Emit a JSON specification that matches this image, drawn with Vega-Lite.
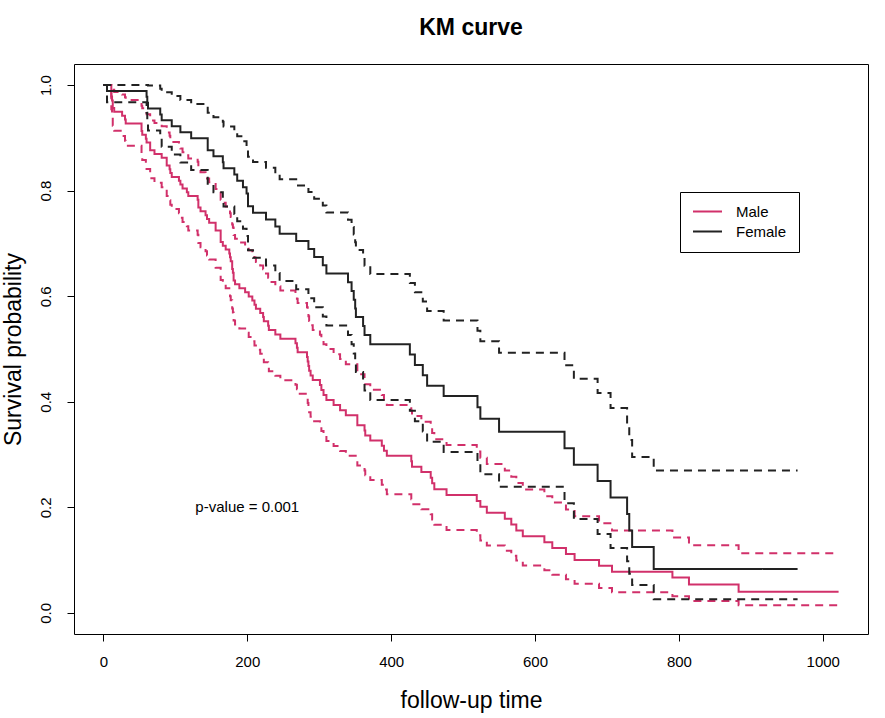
{
  "$schema": "https://vega.github.io/schema/vega-lite/v6.json",
  "width": 794,
  "height": 570,
  "autosize": "none",
  "padding": {"left": 74, "top": 64, "right": 17, "bottom": 84},
  "background": "white",
  "config": {
    "font": "Liberation Sans",
    "view": {"stroke": "black", "strokeWidth": 1},
    "axis": {"grid": false, "domain": false, "tickColor": "black", "tickSize": 7, "labelColor": "black", "titleColor": "black", "labelFont": "Liberation Sans", "titleFont": "Liberation Sans", "labelFontSize": 15, "titleFontSize": 23, "titleFontWeight": "normal"}
  },
  "title": {"text": "KM curve", "fontSize": 23, "fontWeight": "bold", "font": "Liberation Sans", "color": "black", "anchor": "middle", "offset": 24},
  "layer": [
    {
      "data": {"values": [
        {"sex":"Male","time":0,"est":1,"lo":1,"hi":1},
        {"sex":"Male","time":11,"est":0.9783,"lo":0.9542,"hi":1},
        {"sex":"Male","time":12,"est":0.971,"lo":0.9434,"hi":0.999},
        {"sex":"Male","time":13,"est":0.9565,"lo":0.9231,"hi":0.991},
        {"sex":"Male","time":15,"est":0.9493,"lo":0.9134,"hi":0.987},
        {"sex":"Male","time":26,"est":0.942,"lo":0.9038,"hi":0.982},
        {"sex":"Male","time":30,"est":0.9348,"lo":0.8945,"hi":0.977},
        {"sex":"Male","time":31,"est":0.9275,"lo":0.8853,"hi":0.972},
        {"sex":"Male","time":53,"est":0.913,"lo":0.8672,"hi":0.961},
        {"sex":"Male","time":54,"est":0.9058,"lo":0.8583,"hi":0.956},
        {"sex":"Male","time":59,"est":0.8986,"lo":0.8496,"hi":0.95},
        {"sex":"Male","time":60,"est":0.8913,"lo":0.8409,"hi":0.945},
        {"sex":"Male","time":65,"est":0.8768,"lo":0.8237,"hi":0.933},
        {"sex":"Male","time":71,"est":0.8696,"lo":0.8152,"hi":0.928},
        {"sex":"Male","time":81,"est":0.8623,"lo":0.8067,"hi":0.922},
        {"sex":"Male","time":88,"est":0.8478,"lo":0.79,"hi":0.91},
        {"sex":"Male","time":92,"est":0.8406,"lo":0.7817,"hi":0.904},
        {"sex":"Male","time":93,"est":0.8333,"lo":0.7734,"hi":0.898},
        {"sex":"Male","time":95,"est":0.8261,"lo":0.7652,"hi":0.892},
        {"sex":"Male","time":105,"est":0.8188,"lo":0.757,"hi":0.886},
        {"sex":"Male","time":107,"est":0.8116,"lo":0.7489,"hi":0.88},
        {"sex":"Male","time":110,"est":0.8043,"lo":0.7408,"hi":0.873},
        {"sex":"Male","time":116,"est":0.7971,"lo":0.7328,"hi":0.867},
        {"sex":"Male","time":118,"est":0.7899,"lo":0.7247,"hi":0.861},
        {"sex":"Male","time":131,"est":0.7826,"lo":0.7167,"hi":0.855},
        {"sex":"Male","time":132,"est":0.7681,"lo":0.7008,"hi":0.842},
        {"sex":"Male","time":135,"est":0.7609,"lo":0.6929,"hi":0.835},
        {"sex":"Male","time":142,"est":0.7536,"lo":0.6851,"hi":0.829},
        {"sex":"Male","time":144,"est":0.7464,"lo":0.6772,"hi":0.823},
        {"sex":"Male","time":147,"est":0.7391,"lo":0.6694,"hi":0.816},
        {"sex":"Male","time":156,"est":0.7246,"lo":0.6538,"hi":0.803},
        {"sex":"Male","time":163,"est":0.7029,"lo":0.6306,"hi":0.783},
        {"sex":"Male","time":166,"est":0.6957,"lo":0.623,"hi":0.777},
        {"sex":"Male","time":170,"est":0.6884,"lo":0.6153,"hi":0.77},
        {"sex":"Male","time":175,"est":0.6811,"lo":0.6076,"hi":0.763},
        {"sex":"Male","time":176,"est":0.6738,"lo":0.5999,"hi":0.757},
        {"sex":"Male","time":177,"est":0.6664,"lo":0.5922,"hi":0.75},
        {"sex":"Male","time":179,"est":0.6518,"lo":0.5769,"hi":0.736},
        {"sex":"Male","time":180,"est":0.6445,"lo":0.5693,"hi":0.73},
        {"sex":"Male","time":181,"est":0.6298,"lo":0.5541,"hi":0.716},
        {"sex":"Male","time":183,"est":0.6225,"lo":0.5466,"hi":0.709},
        {"sex":"Male","time":189,"est":0.615,"lo":0.5388,"hi":0.702},
        {"sex":"Male","time":197,"est":0.6073,"lo":0.5309,"hi":0.695},
        {"sex":"Male","time":202,"est":0.5995,"lo":0.5228,"hi":0.687},
        {"sex":"Male","time":207,"est":0.5917,"lo":0.5148,"hi":0.68},
        {"sex":"Male","time":210,"est":0.5839,"lo":0.5068,"hi":0.673},
        {"sex":"Male","time":212,"est":0.5762,"lo":0.4988,"hi":0.665},
        {"sex":"Male","time":218,"est":0.5684,"lo":0.4909,"hi":0.658},
        {"sex":"Male","time":222,"est":0.5605,"lo":0.4829,"hi":0.651},
        {"sex":"Male","time":223,"est":0.5525,"lo":0.4747,"hi":0.643},
        {"sex":"Male","time":229,"est":0.5442,"lo":0.4663,"hi":0.635},
        {"sex":"Male","time":230,"est":0.536,"lo":0.4579,"hi":0.627},
        {"sex":"Male","time":239,"est":0.5276,"lo":0.4494,"hi":0.619},
        {"sex":"Male","time":246,"est":0.5192,"lo":0.4409,"hi":0.611},
        {"sex":"Male","time":267,"est":0.5107,"lo":0.4323,"hi":0.603},
        {"sex":"Male","time":269,"est":0.5022,"lo":0.4238,"hi":0.595},
        {"sex":"Male","time":270,"est":0.4937,"lo":0.4152,"hi":0.587},
        {"sex":"Male","time":283,"est":0.485,"lo":0.4065,"hi":0.579},
        {"sex":"Male","time":284,"est":0.4764,"lo":0.3979,"hi":0.57},
        {"sex":"Male","time":285,"est":0.4676,"lo":0.3891,"hi":0.562},
        {"sex":"Male","time":286,"est":0.4587,"lo":0.3803,"hi":0.553},
        {"sex":"Male","time":288,"est":0.4499,"lo":0.3716,"hi":0.545},
        {"sex":"Male","time":291,"est":0.4411,"lo":0.3629,"hi":0.536},
        {"sex":"Male","time":301,"est":0.4319,"lo":0.3538,"hi":0.527},
        {"sex":"Male","time":303,"est":0.4225,"lo":0.3445,"hi":0.518},
        {"sex":"Male","time":306,"est":0.4129,"lo":0.335,"hi":0.509},
        {"sex":"Male","time":310,"est":0.4033,"lo":0.3256,"hi":0.5},
        {"sex":"Male","time":320,"est":0.3937,"lo":0.3162,"hi":0.49},
        {"sex":"Male","time":329,"est":0.3841,"lo":0.3069,"hi":0.481},
        {"sex":"Male","time":337,"est":0.3745,"lo":0.2976,"hi":0.471},
        {"sex":"Male","time":353,"est":0.3553,"lo":0.2791,"hi":0.452},
        {"sex":"Male","time":363,"est":0.3457,"lo":0.27,"hi":0.443},
        {"sex":"Male","time":364,"est":0.3361,"lo":0.2609,"hi":0.433},
        {"sex":"Male","time":371,"est":0.3265,"lo":0.2519,"hi":0.423},
        {"sex":"Male","time":387,"est":0.3169,"lo":0.2429,"hi":0.413},
        {"sex":"Male","time":390,"est":0.3073,"lo":0.2339,"hi":0.404},
        {"sex":"Male","time":394,"est":0.2977,"lo":0.225,"hi":0.394},
        {"sex":"Male","time":428,"est":0.2874,"lo":0.2155,"hi":0.383},
        {"sex":"Male","time":429,"est":0.2771,"lo":0.206,"hi":0.373},
        {"sex":"Male","time":442,"est":0.2669,"lo":0.1965,"hi":0.362},
        {"sex":"Male","time":455,"est":0.2562,"lo":0.1868,"hi":0.351},
        {"sex":"Male","time":457,"est":0.2455,"lo":0.177,"hi":0.341},
        {"sex":"Male","time":460,"est":0.2344,"lo":0.1669,"hi":0.329},
        {"sex":"Male","time":477,"est":0.2232,"lo":0.1569,"hi":0.318},
        {"sex":"Male","time":519,"est":0.2121,"lo":0.1469,"hi":0.306},
        {"sex":"Male","time":524,"est":0.2009,"lo":0.1371,"hi":0.294},
        {"sex":"Male","time":533,"est":0.1897,"lo":0.1275,"hi":0.282},
        {"sex":"Male","time":558,"est":0.1786,"lo":0.1179,"hi":0.27},
        {"sex":"Male","time":567,"est":0.1674,"lo":0.1085,"hi":0.258},
        {"sex":"Male","time":574,"est":0.1562,"lo":0.0992,"hi":0.246},
        {"sex":"Male","time":583,"est":0.1451,"lo":0.09,"hi":0.234},
        {"sex":"Male","time":613,"est":0.1339,"lo":0.081,"hi":0.221},
        {"sex":"Male","time":624,"est":0.1228,"lo":0.0722,"hi":0.209},
        {"sex":"Male","time":643,"est":0.1116,"lo":0.0636,"hi":0.196},
        {"sex":"Male","time":655,"est":0.1004,"lo":0.0552,"hi":0.183},
        {"sex":"Male","time":689,"est":0.0893,"lo":0.047,"hi":0.17},
        {"sex":"Male","time":707,"est":0.0781,"lo":0.039,"hi":0.156},
        {"sex":"Male","time":791,"est":0.067,"lo":0.0314,"hi":0.143},
        {"sex":"Male","time":814,"est":0.0536,"lo":0.0223,"hi":0.128},
        {"sex":"Male","time":883,"est":0.0402,"lo":0.0143,"hi":0.113},
        {"sex":"Male","time":1022,"est":0.0402,"lo":0.0143,"hi":0.113},
        {"sex":"Female","time":0,"est":1,"lo":1,"hi":1},
        {"sex":"Female","time":5,"est":0.9889,"lo":0.9675,"hi":1},
        {"sex":"Female","time":60,"est":0.9778,"lo":0.9478,"hi":1},
        {"sex":"Female","time":61,"est":0.9667,"lo":0.9303,"hi":1},
        {"sex":"Female","time":62,"est":0.9556,"lo":0.9139,"hi":0.9991},
        {"sex":"Female","time":79,"est":0.9444,"lo":0.8983,"hi":0.993},
        {"sex":"Female","time":81,"est":0.9333,"lo":0.8832,"hi":0.9863},
        {"sex":"Female","time":95,"est":0.9221,"lo":0.8683,"hi":0.9792},
        {"sex":"Female","time":107,"est":0.9107,"lo":0.8535,"hi":0.9717},
        {"sex":"Female","time":122,"est":0.8993,"lo":0.8391,"hi":0.964},
        {"sex":"Female","time":145,"est":0.8766,"lo":0.8108,"hi":0.9476},
        {"sex":"Female","time":153,"est":0.8652,"lo":0.797,"hi":0.9392},
        {"sex":"Female","time":166,"est":0.8538,"lo":0.7834,"hi":0.9305},
        {"sex":"Female","time":167,"est":0.8424,"lo":0.7699,"hi":0.9217},
        {"sex":"Female","time":182,"est":0.8305,"lo":0.7559,"hi":0.9126},
        {"sex":"Female","time":186,"est":0.8187,"lo":0.742,"hi":0.9033},
        {"sex":"Female","time":194,"est":0.8066,"lo":0.728,"hi":0.8937},
        {"sex":"Female","time":199,"est":0.7946,"lo":0.7142,"hi":0.8841},
        {"sex":"Female","time":201,"est":0.7705,"lo":0.6869,"hi":0.8643},
        {"sex":"Female","time":208,"est":0.7581,"lo":0.6729,"hi":0.8541},
        {"sex":"Female","time":226,"est":0.7452,"lo":0.6584,"hi":0.8435},
        {"sex":"Female","time":239,"est":0.7322,"lo":0.6438,"hi":0.8327},
        {"sex":"Female","time":245,"est":0.7186,"lo":0.6287,"hi":0.8214},
        {"sex":"Female","time":268,"est":0.7045,"lo":0.613,"hi":0.8098},
        {"sex":"Female","time":285,"est":0.6895,"lo":0.5962,"hi":0.7975},
        {"sex":"Female","time":293,"est":0.6742,"lo":0.5791,"hi":0.7849},
        {"sex":"Female","time":305,"est":0.6585,"lo":0.5618,"hi":0.7719},
        {"sex":"Female","time":310,"est":0.6429,"lo":0.5447,"hi":0.7587},
        {"sex":"Female","time":340,"est":0.6264,"lo":0.5267,"hi":0.745},
        {"sex":"Female","time":345,"est":0.6099,"lo":0.5089,"hi":0.731},
        {"sex":"Female","time":348,"est":0.5934,"lo":0.4913,"hi":0.7168},
        {"sex":"Female","time":350,"est":0.5769,"lo":0.4739,"hi":0.7024},
        {"sex":"Female","time":351,"est":0.5604,"lo":0.4566,"hi":0.6878},
        {"sex":"Female","time":361,"est":0.5435,"lo":0.439,"hi":0.6728},
        {"sex":"Female","time":363,"est":0.5265,"lo":0.4215,"hi":0.6576},
        {"sex":"Female","time":371,"est":0.5089,"lo":0.4035,"hi":0.6419},
        {"sex":"Female","time":426,"est":0.4894,"lo":0.3832,"hi":0.6249},
        {"sex":"Female","time":433,"est":0.4698,"lo":0.3632,"hi":0.6076},
        {"sex":"Female","time":444,"est":0.4502,"lo":0.3435,"hi":0.59},
        {"sex":"Female","time":450,"est":0.4306,"lo":0.3241,"hi":0.5722},
        {"sex":"Female","time":473,"est":0.4111,"lo":0.305,"hi":0.554},
        {"sex":"Female","time":520,"est":0.3894,"lo":0.2837,"hi":0.5345},
        {"sex":"Female","time":524,"est":0.3678,"lo":0.2629,"hi":0.5146},
        {"sex":"Female","time":550,"est":0.3433,"lo":0.239,"hi":0.4931},
        {"sex":"Female","time":641,"est":0.3121,"lo":0.2076,"hi":0.4691},
        {"sex":"Female","time":654,"est":0.2809,"lo":0.1779,"hi":0.4435},
        {"sex":"Female","time":687,"est":0.2497,"lo":0.1496,"hi":0.4166},
        {"sex":"Female","time":705,"est":0.2184,"lo":0.1229,"hi":0.3882},
        {"sex":"Female","time":728,"est":0.1872,"lo":0.0978,"hi":0.3586},
        {"sex":"Female","time":731,"est":0.156,"lo":0.0743,"hi":0.3276},
        {"sex":"Female","time":735,"est":0.1248,"lo":0.0527,"hi":0.2954},
        {"sex":"Female","time":765,"est":0.0832,"lo":0.0257,"hi":0.2697},
        {"sex":"Female","time":965,"est":0.0832,"lo":0.0257,"hi":0.2697}
      ]},
      "transform": [{"fold": ["est", "lo", "hi"], "as": ["band", "surv"]}],
      "mark": {"type": "line", "interpolate": "step-after", "strokeWidth": 2},
      "encoding": {
        "x": {"field": "time", "type": "quantitative", "title": "follow-up time",
              "scale": {"domain": [-40.88, 1062.88], "nice": false, "zero": false},
              "axis": {"values": [0, 200, 400, 600, 800, 1000], "format": "d", "labelPadding": 13, "titlePadding": 20}},
        "y": {"field": "surv", "type": "quantitative", "title": "Survival probability",
              "scale": {"domain": [-0.04, 1.04], "nice": false, "zero": false},
              "axis": {"values": [0, 0.2, 0.4, 0.6, 0.8, 1], "format": ".1f", "labelAngle": -90, "labelAlign": "center", "labelBaseline": "bottom", "labelPadding": 14, "titlePadding": 13}},
        "color": {"field": "sex", "type": "nominal",
                  "scale": {"domain": ["Male", "Female"], "range": ["#D1306A", "#222222"]},
                  "legend": {"title": null, "orient": "none", "legendX": 606, "legendY": 128,
                             "strokeColor": "black", "fillColor": "white", "padding": 12,
                             "symbolType": "stroke", "symbolSize": 841, "symbolStrokeWidth": 2,
                             "labelFontSize": 15, "labelFont": "Liberation Sans", "labelColor": "black",
                             "labelOffset": 13, "rowPadding": 4, "clipHeight": 15}},
        "strokeDash": {"field": "band", "type": "nominal",
                       "scale": {"domain": ["est", "lo", "hi"], "range": [[1, 0], [8, 6], [8, 6]]},
                       "legend": null}
      }
    },
    {
      "data": {"values": [{"time": 200, "surv": 0.2, "label": "p-value = 0.001"}]},
      "mark": {"type": "text", "fontSize": 15, "font": "Liberation Sans", "color": "black", "align": "center", "baseline": "middle"},
      "encoding": {
        "x": {"field": "time", "type": "quantitative"},
        "y": {"field": "surv", "type": "quantitative"},
        "text": {"field": "label"}
      }
    }
  ]
}
